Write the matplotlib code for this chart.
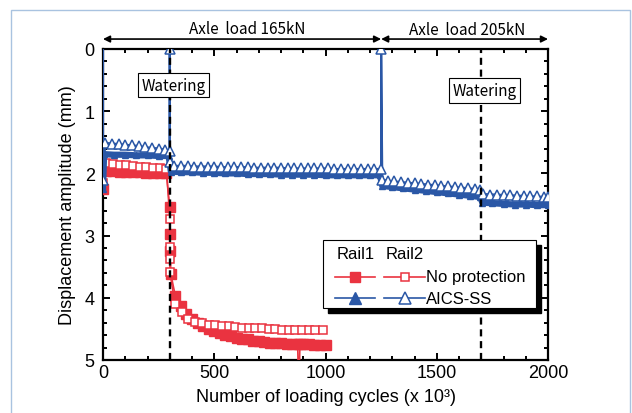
import matplotlib
matplotlib.use('Agg')
import matplotlib.pyplot as plt
import matplotlib.transforms as mtransforms
from matplotlib.patches import Rectangle
from matplotlib.lines import Line2D
from matplotlib.ticker import MultipleLocator

# No protection, Rail1 (filled squares)
np_r1_x = [0, 15, 45, 75, 105, 135, 165, 195, 225, 255, 285,
           300, 300, 302, 305,
           325, 350, 375, 400, 425, 450, 475, 500, 525, 550, 575, 600, 625, 650, 675, 700,
           725, 750, 775, 800, 825, 850, 875, 880, 885, 900, 925, 950, 975, 1000]
np_r1_y = [2.25, 1.96, 1.96, 1.97, 1.97, 1.98, 1.98, 1.99, 1.99, 2.00, 2.00,
           2.54, 2.97, 3.25, 3.62,
           3.97, 4.13, 4.26, 4.34, 4.41, 4.46, 4.50, 4.54, 4.57, 4.60, 4.62, 4.64, 4.66, 4.67, 4.69, 4.70,
           4.71, 4.72, 4.73, 4.73, 4.74, 4.74, 4.75, 5.60, 4.75, 4.75, 4.75, 4.76, 4.76, 4.76]

# No protection, Rail2 (open squares)
np_r2_x = [0, 15, 45, 75, 105, 135, 165, 195, 225, 255, 285,
           300, 300, 300, 300,
           324, 357, 384, 413, 444, 475, 505, 535, 565, 595, 625, 655, 685, 715, 745, 775,
           805, 835, 865, 895, 925, 955, 989]
np_r2_y = [2.15, 1.83, 1.85, 1.86, 1.87, 1.88, 1.89, 1.90, 1.91, 1.92, 1.93,
           2.73, 3.18, 3.38, 3.59,
           4.10, 4.23, 4.34, 4.39, 4.41, 4.43, 4.44, 4.45, 4.46, 4.47, 4.48, 4.48, 4.49, 4.49, 4.50, 4.50,
           4.51, 4.51, 4.51, 4.52, 4.52, 4.52, 4.52]

# AICS-SS, Rail1 (filled triangles)
ai_r1_x = [0, 5, 50, 100, 150, 200, 250, 295,
           305, 350, 400, 450, 500, 550, 600, 650, 700, 750, 800, 850, 900, 950, 1000, 1050,
           1100, 1150, 1200, 1245,
           1255, 1300, 1350, 1400, 1450, 1500, 1550, 1600, 1650, 1695,
           1705, 1750, 1800, 1850, 1900, 1950, 2000]
ai_r1_y = [2.25, 1.69, 1.70, 1.70, 1.71, 1.71, 1.72, 1.72,
           1.97, 1.98, 1.98, 1.99, 1.99, 2.00, 2.00, 2.01, 2.01, 2.01, 2.02, 2.02, 2.02, 2.02, 2.03, 2.03,
           2.03, 2.03, 2.03, 2.03,
           2.20, 2.22, 2.24, 2.26, 2.28, 2.30, 2.32, 2.34, 2.36, 2.38,
           2.47, 2.48, 2.49, 2.50, 2.50, 2.51, 2.51]

# AICS-SS, Rail2 (open triangles)
ai_r2_x = [0, 0, 10, 40, 70, 100, 130, 160, 190, 220, 250, 280, 300, 300, 300,
           320, 350, 380, 410, 440, 470, 500, 530, 560, 590, 620, 650, 680, 710, 740, 770,
           800, 830, 860, 890, 920, 950, 980, 1010, 1040, 1070, 1100, 1130, 1160, 1190, 1220, 1250,
           1250, 1255, 1280, 1310, 1340, 1370, 1400, 1430, 1460, 1490, 1520, 1550, 1580, 1610,
           1640, 1670, 1695,
           1710, 1740, 1770, 1800, 1830, 1860, 1890, 1920, 1950, 1980, 2000]
ai_r2_y = [0.0, 2.10, 1.51, 1.52, 1.53, 1.54, 1.55, 1.56, 1.58, 1.59, 1.60, 1.62, 1.64, 0.0, 1.82,
           1.88, 1.88, 1.88, 1.89, 1.89, 1.89, 1.89, 1.90, 1.90, 1.90, 1.90, 1.90, 1.91, 1.91, 1.91, 1.91,
           1.91, 1.92, 1.92, 1.92, 1.92, 1.92, 1.92, 1.92, 1.93, 1.93, 1.93, 1.93, 1.93, 1.93, 1.93, 1.93,
           0.0, 2.10, 2.12, 2.13, 2.14, 2.15, 2.16, 2.17, 2.18, 2.19, 2.20, 2.21, 2.22, 2.23,
           2.24, 2.25, 2.27,
           2.33, 2.34, 2.34, 2.35, 2.35, 2.36, 2.36, 2.37, 2.37, 2.38, 2.38]

watering_x = [300, 1700]
load_changes = [0, 1250, 2000]
load_labels = ['Axle  load 165kN', 'Axle  load 205kN']

RED = '#ea3340'
BLUE = '#2a57a6'

plt.rcParams['font.family'] = ['Liberation Sans', 'DejaVu Sans']
label_font = ['Noto Sans CJK JP', 'DejaVu Sans']

fig = plt.figure(figsize=(6.32, 4.14), dpi=100)
ax = fig.add_axes([103 / 632, 53 / 414, 445 / 632, 311 / 414])

# light blue frame round the figure
fig.patches.append(Rectangle((11 / 632, -0.05), 619 / 632, 1.05 - 11 / 414,
                             transform=fig.transFigure, fill=False,
                             edgecolor='#a9c3e0', lw=1))

ax.plot(np_r1_x, np_r1_y, '-s', color=RED, ms=7, lw=1.2, zorder=3)
ax.plot(np_r2_x, np_r2_y, '-s', color=RED, ms=5.5, mfc='white', mec=RED, mew=1.1,
        lw=1.1, zorder=4)
ax.plot(ai_r1_x, ai_r1_y, '-^', color=BLUE, ms=5, lw=4.5, zorder=5)
ax.plot(ai_r2_x, ai_r2_y, '-^', color=BLUE, ms=7, mfc='white', mec=BLUE, mew=1.1,
        lw=1.6, markevery=list(range(1, len(ai_r2_x))), zorder=6)

for wx in watering_x:
    ax.axvline(wx, color='k', lw=1.7, dashes=(3, 2), zorder=7)

ax.text(317, 0.58, 'Watering', ha='center', va='center', fontsize=11, family=label_font,
        bbox=dict(boxstyle='square,pad=0.25', fc='white', ec='k', lw=0.8), zorder=8)
ax.text(1715, 0.67, 'Watering', ha='center', va='center', fontsize=11, family=label_font,
        bbox=dict(boxstyle='square,pad=0.25', fc='white', ec='k', lw=0.8), zorder=8)

# load arrows above the axes
trans = mtransforms.blended_transform_factory(ax.transData, ax.transAxes)
for i in range(2):
    ax.annotate('', xy=(load_changes[i], 1.032), xytext=(load_changes[i + 1], 1.032),
                xycoords=trans, textcoords=trans, annotation_clip=False,
                arrowprops=dict(arrowstyle='<|-|>', color='k', lw=1.2,
                                shrinkA=0, shrinkB=0, mutation_scale=10))
ax.text(647, 1.067, load_labels[0], transform=trans, ha='center', va='center',
        fontsize=11, family=label_font)
ax.text(1638, 1.064, load_labels[1], transform=trans, ha='center', va='center',
        fontsize=11, family=label_font)

ax.set_xlim(0, 2000)
ax.set_ylim(5, 0)
ax.xaxis.set_major_locator(MultipleLocator(500))
ax.xaxis.set_minor_locator(MultipleLocator(100))
ax.yaxis.set_major_locator(MultipleLocator(1))
ax.yaxis.set_minor_locator(MultipleLocator(0.2))
ax.tick_params(which='both', direction='in', top=True, right=True, width=1.4, labelsize=13)
ax.tick_params(which='major', length=5)
ax.tick_params(which='minor', length=3)
ax.tick_params(axis='x', pad=3)
ax.tick_params(axis='y', pad=6)
for s in ax.spines.values():
    s.set_linewidth(1.6)
ax.set_xlabel('Number of loading cycles (x 10³)', fontsize=13, labelpad=5)
ax.set_ylabel('Displacement amplitude (mm)', fontsize=13, labelpad=6)

# hand made legend with Rail1 / Rail2 columns
lx0, ly0, lw_, lh = 0.494, 0.167, 0.479, 0.219
ax.add_patch(Rectangle((lx0 + 0.0112, ly0 - 0.016), lw_, lh, transform=ax.transAxes,
                       fc='k', ec='k', clip_on=False, zorder=9))
ax.add_patch(Rectangle((lx0, ly0), lw_, lh, transform=ax.transAxes,
                       fc='white', ec='k', lw=0.8, clip_on=False, zorder=10))
ax.text(0.526, 0.341, 'Rail1', transform=ax.transAxes, va='center', fontsize=12, zorder=11)
ax.text(0.634, 0.341, 'Rail2', transform=ax.transAxes, va='center', fontsize=12, zorder=11)
rows = [(0.267, RED, 's', 6.5, 6, 'No protection'),
        (0.199, BLUE, '^', 9, 8.5, 'AICS-SS')]
for yy, c, m, ms_f, ms_o, lab in rows:
    ax.add_line(Line2D([0.521, 0.567, 0.611], [yy] * 3, transform=ax.transAxes, color=c,
                       lw=1.2, marker=m, ms=ms_f, markevery=[1], clip_on=False, zorder=11))
    ax.add_line(Line2D([0.631, 0.678, 0.724], [yy] * 3, transform=ax.transAxes, color=c,
                       lw=1.2, marker=m, ms=ms_o, mfc='white', mec=c, mew=1.1,
                       markevery=[1], clip_on=False, zorder=11))
    ax.text(0.726, yy, lab, transform=ax.transAxes, va='center', fontsize=12, zorder=11)

fig.savefig('out.png', dpi=100)
